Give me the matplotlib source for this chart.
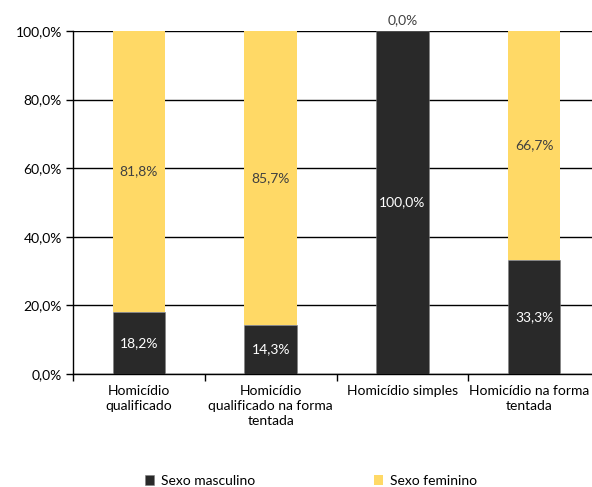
import numpy as np
import matplotlib.pyplot as plt
import matplotlib.transforms as mtransforms
from matplotlib.ticker import FuncFormatter

plt.rcParams['font.family'] = ['Lato', 'DejaVu Sans']

# Data
categories = ['Homicídio\nqualificado', 'Homicídio\nqualificado na forma\ntentada',
              'Homicídio simples', 'Homicídio na forma\ntentada']
masculino = [18.2, 14.3, 100.0, 33.3]
feminino = [81.8, 85.7, 0.0, 66.7]
series_names = ['Sexo masculino', 'Sexo feminino']

dark = '#292929'
yellow = '#FFD966'
fs = 10

fig = plt.figure(figsize=(5.92, 4.87), dpi=100)
# axes extends slightly past the right edge like the original
ax = fig.add_axes([73/592, 1 - 374/487, (600 - 73)/592, (374 - 31)/487])

x = np.arange(len(categories))
m = np.array(masculino)
f = np.array(feminino)
ax.bar(x, m, width=0.4, color=dark, edgecolor='#7f7f7f', linewidth=0.4, zorder=3,
       label=series_names[0])
ax.bar(x, f, width=0.4, bottom=m, color=yellow, zorder=3, label=series_names[1])

def fmt(v):
    return f'{v:.1f}'.replace('.', ',') + '%'

for i in range(len(categories)):
    if m[i] > 0:
        ax.text(x[i], m[i] / 2, fmt(m[i]), ha='center', va='center',
                color='white', fontsize=fs, zorder=4)
    if f[i] > 0:
        ax.text(x[i], m[i] + f[i] / 2, fmt(f[i]), ha='center', va='center',
                color='#404040', fontsize=fs, zorder=4)
    else:
        ax.text(x[i], 100 + 1.5, fmt(f[i]), ha='center', va='bottom',
                color='#404040', fontsize=fs, zorder=4)

ax.set_ylim(0, 100)
ax.set_xlim(-0.5, 3.5)
ax.set_yticks(np.arange(0, 101, 20))
ax.yaxis.set_major_formatter(FuncFormatter(lambda v, p: f'{v:.1f}'.replace('.', ',') + '%'))
ax.yaxis.grid(True, color='black', linewidth=1.0, zorder=1)
ax.set_axisbelow(True)

ax.set_xticks(x)
ax.set_xticklabels(categories, fontsize=fs, linespacing=1.3)
ax.set_xticks(np.arange(-0.5, 4.0, 1), minor=True)
ax.tick_params(axis='x', which='major', length=0, pad=8)
ax.tick_params(axis='x', which='minor', length=5, width=1, color='black', direction='out')
ax.tick_params(axis='y', labelsize=fs, length=5, width=1, direction='out', pad=3)

# keep the last category label inside the figure
last = ax.get_xticklabels()[-1]
last.set_transform(last.get_transform() +
                   mtransforms.ScaledTranslation(-5/100, 0, fig.dpi_scale_trans))

for s in ['top', 'right']:
    ax.spines[s].set_visible(False)
ax.spines['left'].set_linewidth(1)
ax.spines['bottom'].set_linewidth(1)

fig.legend(loc='center', bbox_to_anchor=(311/592, 1 - 481/487), ncol=2, frameon=False,
           fontsize=fs, handlelength=0.7, handleheight=0.7, handletextpad=0.5,
           columnspacing=8.5)

fig.savefig('out.png', dpi=100)
